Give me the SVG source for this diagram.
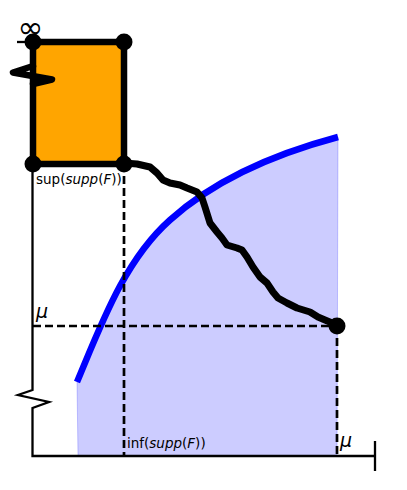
<svg xmlns="http://www.w3.org/2000/svg" width="407" height="490" viewBox="0 0 407 490">
<style>
.ax{stroke:#000;stroke-width:2.3;fill:none}
.dash{stroke:#000;stroke-width:2.7;fill:none;stroke-dasharray:8 4}
.pt{fill:#000}
.lbl{font-family:"DejaVu Sans",sans-serif;font-size:13.5px;fill:#000}
.it{font-style:italic}
.mu{font-family:"DejaVu Sans",sans-serif;font-size:19px;font-style:italic;fill:#000}
</style>
<rect width="407" height="490" fill="#fff"/>
<g id="region">
<path d="M78,456 L77,382 C101,325 124,261 170,220 C216,178.5 278,153 338,137 L337,456 Z" fill="#ccccff" stroke="#0000ff" stroke-opacity="0.2" stroke-width="1"/>
</g>
<g id="axes">
<path class="ax" d="M32.5,164 V390 L18,395 L49,402 L32.5,408 V456 H375"/>
<path class="ax" d="M375,441 V471"/>
<path class="ax" d="M17,42 H33"/>
</g>
<g id="bound-curve">
<path d="M77,382 C101,325 124,261 170,220 C216,178.5 278,153 338,137" fill="none" stroke="#0000ff" stroke-width="6.5"/>
</g>
<g id="guides">
<path class="dash" d="M124,164 V456"/>
<path class="dash" d="M33,326 H337"/>
<path class="dash" d="M337,326 V456"/>
</g>
<g id="connectors">
<polyline fill="none" stroke="#000" stroke-width="7" stroke-linejoin="round" stroke-linecap="round" points="124,163 137,164 150,167 157,173 163,180 170,183 180,185 187,188 197,192 202,198 205,207 210,223 217,232 222,238 227,245 237,248 242,250 247,257 253,267 260,277 267,283 273,292 278,298 287,303 297,308 310,312 318,317 325,320 337,325"/>
</g>
<g id="node-support">
<rect x="33" y="42" width="91" height="122" fill="#ffa500" stroke="#000" stroke-width="6.5"/>
<path d="M33,66 L13,72.5 L52,79.5 L33,84" fill="none" stroke="#000" stroke-width="6.5" stroke-linejoin="round" stroke-linecap="round"/>
</g>
<g id="node-corner-tl"><circle class="pt" cx="33" cy="42" r="8.5"/></g>
<g id="node-corner-tr"><circle class="pt" cx="124" cy="42" r="8.5"/></g>
<g id="node-corner-bl"><circle class="pt" cx="33" cy="164" r="8.5"/></g>
<g id="node-corner-br"><circle class="pt" cx="124" cy="164" r="8.5"/></g>
<g id="node-end"><circle class="pt" cx="337" cy="326" r="8.5"/></g>
<g id="labels">
<text x="30.5" y="38" font-family="DejaVu Sans,sans-serif" font-size="31" text-anchor="middle">∞</text>
<text class="lbl" x="36" y="184">sup(<tspan class="it">supp</tspan>(<tspan class="it">F</tspan>))</text>
<text class="lbl" x="127" y="448">inf(<tspan class="it">supp</tspan>(<tspan class="it">F</tspan>))</text>
<text class="mu" x="36" y="318">μ</text>
<text class="mu" x="340" y="447">μ</text>
</g>
</svg>
